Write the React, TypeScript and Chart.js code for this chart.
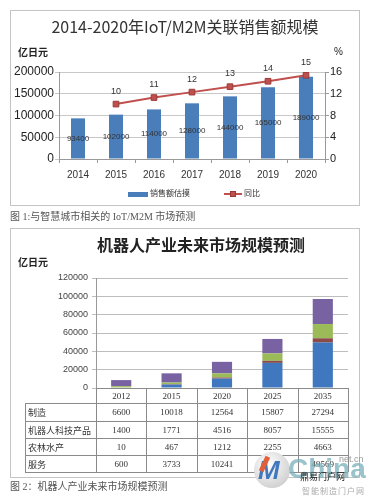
import React, { useEffect, useRef } from "react";
import { Chart, registerables } from "chart.js";
Chart.register(...registerables);

// ---------- Chart 1 data ----------
const years1 = ["2014", "2015", "2016", "2017", "2018", "2019", "2020"];
const salesValues = [93400, 102000, 114000, 128000, 144000, 165000, 189000];
const growthValues = [null, 10.1, 11.3, 12.3, 13.3, 14.3, 15.4];
const salesLabel = "销售额估摸";
const growthLabel = "同比";

// ---------- Chart 2 data ----------
const years2 = ["2012", "2015", "2020", "2025", "2035"];
const manufacturing = [6600, 10018, 12564, 15807, 27294];
const robotTech = [1400, 1771, 4516, 8057, 15555];
const agriculture = [10, 467, 1212, 2255, 4663];
const services = [600, 3733, 10241, 27400, 49569];
const rowNames = ["制造", "机器人科技产品", "农林水产", "服务"];

const SANS = "'Liberation Sans', 'Noto Sans CJK SC', sans-serif";
const CJK = "'Noto Sans CJK SC', 'Liberation Sans', sans-serif";
const SERIF = "'Liberation Serif', 'Noto Sans CJK SC', serif";

const plain = (v: any) => String(v);

const labelPlugin1 = {
  id: "labels1",
  afterDatasetsDraw(chart: any) {
    const ctx = chart.ctx;
    ctx.save();
    ctx.textAlign = "center";
    ctx.textBaseline = "middle";
    ctx.fillStyle = "#333";
    ctx.font = `8px ${SANS}`;
    const m0 = chart.getDatasetMeta(0);
    m0.data.forEach((el: any, i: number) => {
      ctx.fillText(String(salesValues[i]), el.x, (el.y + el.base) / 2);
    });
    ctx.font = `9px ${SANS}`;
    const m1 = chart.getDatasetMeta(1);
    m1.data.forEach((el: any, i: number) => {
      const v = growthValues[i];
      if (v == null) return;
      ctx.fillText(String(Math.round(v)), el.x, el.y - 13);
    });
    ctx.restore();
  },
};

const tablePlugin = {
  id: "table2",
  afterDraw(chart: any) {
    const ctx = chart.ctx;
    const area = chart.chartArea;
    const n = years2.length;
    const w = (area.right - area.left) / n;
    const top = area.bottom;
    const rowsY = [top + 15, top + 33, top + 50, top + 67, top + 84];
    const tableLeft = 15;
    ctx.save();
    ctx.strokeStyle = "#8a8a8a";
    ctx.lineWidth = 1;
    ctx.beginPath();
    rowsY.forEach((y) => {
      ctx.moveTo(tableLeft, y + 0.5);
      ctx.lineTo(area.right, y + 0.5);
    });
    ctx.moveTo(tableLeft + 0.5, rowsY[0]);
    ctx.lineTo(tableLeft + 0.5, rowsY[rowsY.length - 1]);
    for (let i = 0; i <= n; i++) {
      const x = Math.round(area.left + i * w) + 0.5;
      ctx.moveTo(x, top);
      ctx.lineTo(x, rowsY[rowsY.length - 1]);
    }
    ctx.stroke();

    const rows = [manufacturing, robotTech, agriculture, services];
    ctx.textBaseline = "middle";
    rows.forEach((vals, r) => {
      const cy = (rowsY[r] + rowsY[r + 1]) / 2 + 1;
      ctx.fillStyle = "#333";
      ctx.textAlign = "left";
      ctx.font = `9px ${CJK}`;
      ctx.fillText(rowNames[r], tableLeft + 3, cy);
      ctx.textAlign = "center";
      ctx.font = `9px ${SERIF}`;
      vals.forEach((v, i) => {
        ctx.fillText(String(v), area.left + (i + 0.5) * w, cy);
      });
    });
    ctx.restore();
  },
};

function Chart1() {
  const ref = useRef<HTMLCanvasElement>(null);
  useEffect(() => {
    const chart = new Chart(ref.current!, {
      type: "bar",
      data: {
        labels: years1,
        datasets: [
          {
            type: "bar",
            label: salesLabel,
            data: salesValues,
            backgroundColor: "#4A7EBB",
            barPercentage: 0.37,
            categoryPercentage: 1,
            yAxisID: "y",
            order: 2,
          },
          {
            type: "line",
            label: growthLabel,
            data: growthValues as any,
            borderColor: "#C0504D",
            backgroundColor: "#C0504D",
            borderWidth: 2,
            pointStyle: "rect",
            pointRadius: 4,
            pointBorderColor: "#9A3A38",
            pointBorderWidth: 1,
            yAxisID: "y1",
            order: 1,
          },
        ],
      },
      options: {
        responsive: false,
        animation: false,
        layout: { padding: { top: 62, left: 0, right: 0, bottom: 0 } },
        plugins: { legend: { display: false }, tooltip: { enabled: false } },
        scales: {
          x: {
            afterFit: (s: any) => {
              s.height = 47;
            },
            grid: { drawOnChartArea: false, drawTicks: true, tickLength: 4, color: "#999", offset: true },
            border: { color: "#999" },
            ticks: { font: { size: 10, family: SANS }, color: "#333", padding: 6 },
          },
          y: {
            position: "left",
            min: 0,
            max: 200000,
            afterFit: (s: any) => {
              s.width = 49;
            },
            ticks: { stepSize: 50000, font: { size: 12, family: SANS }, color: "#222", padding: 1, callback: plain },
            grid: { color: "#c8c8c8", tickLength: 4 },
            border: { color: "#999" },
          },
          y1: {
            position: "right",
            min: 0,
            max: 16,
            afterFit: (s: any) => {
              s.width = 35;
            },
            ticks: { stepSize: 2, font: { size: 11, family: SANS }, color: "#222", padding: 1, callback: plain },
            grid: { drawOnChartArea: false, tickLength: 4, color: "#999" },
            border: { color: "#999" },
          },
        },
      },
      plugins: [labelPlugin1],
    });
    return () => chart.destroy();
  }, []);
  return <canvas ref={ref} width={350} height={196} style={{ position: "absolute", left: 10, top: 10, width: 350, height: 196 }} />;
}

function Chart2() {
  const ref = useRef<HTMLCanvasElement>(null);
  useEffect(() => {
    const common = { barPercentage: 0.4, categoryPercentage: 1 };
    const chart = new Chart(ref.current!, {
      type: "bar",
      data: {
        labels: years2,
        datasets: [
          { label: rowNames[3], data: services, backgroundColor: "#3F78BF", ...common },
          { label: rowNames[2], data: agriculture, backgroundColor: "#8C4A48", ...common },
          { label: rowNames[1], data: robotTech, backgroundColor: "#9BBB59", ...common },
          { label: rowNames[0], data: manufacturing, backgroundColor: "#7862A2", ...common },
        ],
      },
      options: {
        responsive: false,
        animation: false,
        layout: { padding: { top: 50, left: 0, right: 12, bottom: 0 } },
        plugins: { legend: { display: false }, tooltip: { enabled: false } },
        scales: {
          x: {
            stacked: true,
            afterFit: (s: any) => {
              s.height = 90;
            },
            grid: { display: false, drawTicks: false, tickLength: 0 },
            border: { display: true, color: "#8a8a8a" },
            ticks: { font: { size: 9, family: SERIF }, color: "#333", padding: 3 },
          },
          y: {
            stacked: true,
            min: 0,
            max: 120000,
            afterFit: (s: any) => {
              s.width = 86;
            },
            ticks: { stepSize: 20000, font: { size: 9, family: SANS }, color: "#444", padding: 4, callback: plain },
            grid: { color: "#bdbdbd", tickLength: 4 },
            border: { color: "#999" },
          },
        },
      },
      plugins: [tablePlugin],
    });
    return () => chart.destroy();
  }, []);
  return <canvas ref={ref} width={350} height={250} style={{ position: "absolute", left: 10, top: 228, width: 350, height: 250 }} />;
}

const abs = (l: number, t: number, extra: React.CSSProperties = {}): React.CSSProperties => ({
  position: "absolute",
  left: l,
  top: t,
  whiteSpace: "nowrap",
  lineHeight: 1,
  ...extra,
});

export default function App() {
  return (
    <div style={{ position: "fixed", left: 0, top: 0, width: 369, height: 502, background: "#fff", overflow: "hidden" }}>
      {/* chart 1 frame */}
      <div style={{ position: "absolute", left: 10, top: 10, width: 350, height: 196, border: "1px solid #c4c4c4", boxSizing: "border-box" }} />
      <Chart1 />
      <div style={abs(10, 18, { width: 350, textAlign: "center", fontFamily: CJK, fontSize: 16, color: "#333" })}>
        2014-2020年IoT/M2M关联销售额规模
      </div>
      <div style={abs(18, 47, { fontFamily: CJK, fontSize: 10, fontWeight: 700, color: "#222" })}>亿日元</div>
      <div style={abs(334, 47, { fontFamily: SANS, fontSize: 10, color: "#222" })}>%</div>
      {/* legend 1 */}
      <div style={abs(128, 192, { width: 20, height: 5, background: "#4A7EBB" })} />
      <div style={abs(150, 189, { fontFamily: CJK, fontSize: 8, color: "#333" })}>{salesLabel}</div>
      <div style={abs(224, 193, { width: 18, height: 2, background: "#C0504D" })} />
      <div style={abs(230, 191, { width: 6, height: 6, background: "#C0504D", border: "1px solid #9A3A38", boxSizing: "border-box" })} />
      <div style={abs(244, 189, { fontFamily: CJK, fontSize: 8, color: "#333" })}>{growthLabel}</div>
      <div style={abs(10, 212, { fontFamily: SERIF, fontSize: 10, color: "#555" })}>图 1:与智慧城市相关的 IoT/M2M 市场预测</div>

      {/* chart 2 frame */}
      <div style={{ position: "absolute", left: 10, top: 228, width: 350, height: 250, border: "1px solid #c4c4c4", boxSizing: "border-box" }} />
      <Chart2 />
      <div style={abs(97, 236, { fontFamily: CJK, fontSize: 16, fontWeight: 700, color: "#222" })}>机器人产业未来市场规模预测</div>
      <div style={abs(18, 257, { fontFamily: CJK, fontSize: 10, fontWeight: 700, color: "#222" })}>亿日元</div>
      <div style={abs(10, 482, { fontFamily: SERIF, fontSize: 10, color: "#555" })}>图 2：机器人产业未来市场规模预测</div>

      {/* watermark */}
      <div style={abs(254, 452, { width: 36, height: 36, borderRadius: 18, background: "radial-gradient(circle at 40% 35%, #ffffff, #d4d4d4 70%, #b8b8b8)" })} />
      <div style={abs(258, 457, { fontFamily: SANS, fontSize: 26, fontWeight: 700, fontStyle: "italic", color: "#3f78bf" })}>M</div>
      <div style={abs(262, 456, { width: 5, height: 16, background: "#e0603a", transform: "rotate(25deg)" })} />
      <div style={abs(288, 455, { fontFamily: SANS, fontSize: 28, fontWeight: 700, color: "rgba(120,175,185,0.75)" })}>China</div>
      <div style={abs(339, 455, { fontFamily: SANS, fontSize: 9, color: "#999" })}>net.cn</div>
      <div style={abs(300, 472, { fontFamily: CJK, fontSize: 9, color: "#222" })}>鼎易门户网</div>
      <div style={abs(302, 487, { fontFamily: CJK, fontSize: 8, color: "#aaa", letterSpacing: 1 })}>智能制造门户网</div>
    </div>
  );
}
